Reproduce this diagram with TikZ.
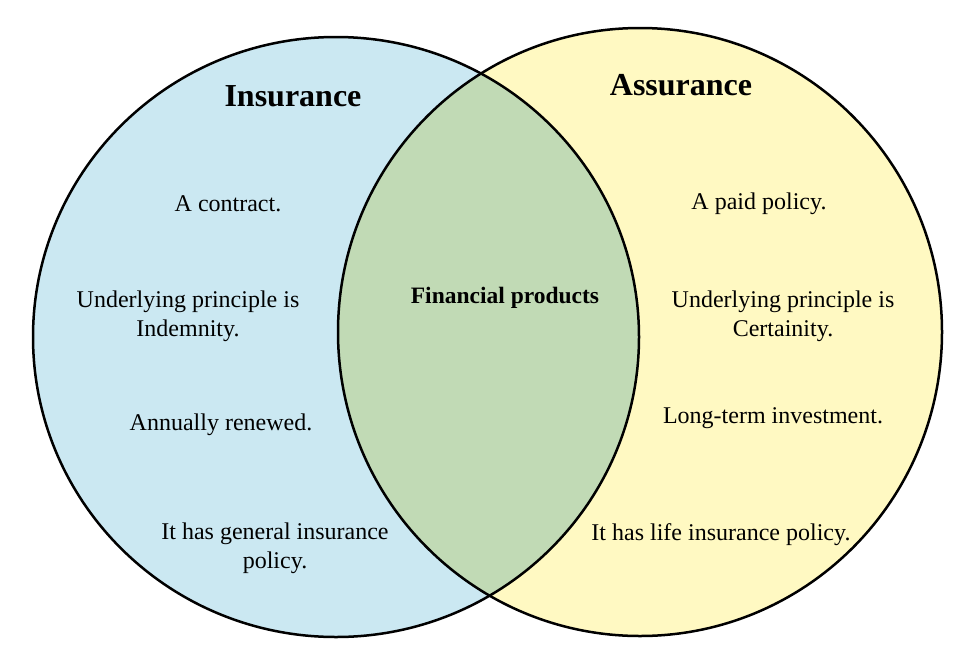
\documentclass[tikz,border=0pt]{standalone}
\usepackage{fontspec}
\setmainfont{Liberation Serif}
\begin{document}
\begin{tikzpicture}[x=1pt,y=-1pt,
  lbl/.style={align=center,font=\fontsize{24}{29}\selectfont},
  ttl/.style={font=\bfseries\fontsize{32}{35}\selectfont}]
\useasboundingbox (0,0) rectangle (961,651);
\definecolor{lb}{HTML}{CBE8F2}
\definecolor{ly}{HTML}{FFF9C2}
\definecolor{lg}{HTML}{C1DAB5}
\fill[lb] (336,337) ellipse [x radius=303,y radius=300];
\fill[ly] (640,332) ellipse [x radius=302,y radius=304];
\begin{scope}
\clip (336,337) ellipse [x radius=303,y radius=300];
\fill[lg] (640,332) ellipse [x radius=302,y radius=304];
\end{scope}
\draw[line width=2.5pt] (336,337) ellipse [x radius=303,y radius=300];
\draw[line width=2.5pt] (640,332) ellipse [x radius=302,y radius=304];
\node[ttl] (t1) at (293,96) {Insurance};
\node[ttl] (t2) at (681,85) {Assurance};
\node[lbl] (a1) at (228,204) {A contract.};
\node[lbl] (a2) at (188,316) {Underlying principle is\\Indemnity.};
\node[lbl] (a3) at (221,425) {Annually renewed.};
\node[lbl] (a4) at (275,548) {It has general insurance\\policy.};
\node[font=\bfseries\fontsize{23.5}{26}\selectfont] (c) at (505,298) {Financial products};
\node[lbl] (b1) at (759,204) {A paid policy.};
\node[lbl] (b2) at (783,316) {Underlying principle is\\Certainity.};
\node[lbl] (b3) at (773,418) {Long-term investment.};
\node[lbl] (b4) at (721,535) {It has life insurance policy.};
\end{tikzpicture}
\end{document}
